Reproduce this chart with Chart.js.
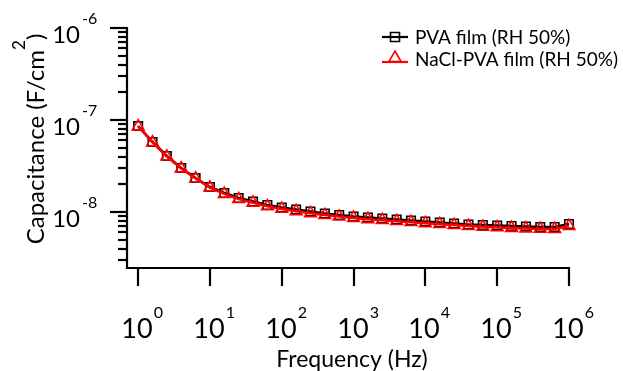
<!DOCTYPE html>
<html><head><meta charset="utf-8">
<script src="https://cdn.jsdelivr.net/npm/chart.js@4/dist/chart.umd.min.js"></script>
<style>html,body{margin:0;padding:0;background:#fff;}canvas{display:block;}</style>
</head><body>
<canvas id="c" width="623" height="371"></canvas>
<script>
// ---- data ----
const frequency = [1,1.585,2.512,3.981,6.31,10,15.85,25.12,39.81,63.1,100,158.5,251.2,398.1,631,1000,1585,2512,3981,6310,10000,15850,25120,39810,63100,100000,158500,251200,398100,631000,1000000];
const pvaFilm = [8.6e-8,5.77e-8,4.06e-8,3.01e-8,2.34e-8,1.87e-8,1.61e-8,1.42e-8,1.30e-8,1.19e-8,1.12e-8,1.064e-8,1.012e-8,9.63e-9,9.27e-9,8.93e-9,8.71e-9,8.49e-9,8.28e-9,8.08e-9,7.88e-9,7.69e-9,7.50e-9,7.31e-9,7.22e-9,7.13e-9,7.05e-9,6.96e-9,6.87e-9,6.87e-9,7.41e-9];
const naclPvaFilm = [8.5e-8,5.7e-8,4.0e-8,2.97e-8,2.31e-8,1.84e-8,1.57e-8,1.38e-8,1.26e-8,1.15e-8,1.08e-8,1.02e-8,9.7e-9,9.25e-9,8.9e-9,8.6e-9,8.35e-9,8.15e-9,7.95e-9,7.75e-9,7.55e-9,7.37e-9,7.2e-9,7.03e-9,6.9e-9,6.8e-9,6.7e-9,6.62e-9,6.55e-9,6.52e-9,7.05e-9];
const seriesNames = ['PVA film (RH 50%)','NaCl-PVA film (RH 50%)'];
const xTickValues = [1,10,100,1000,10000,100000,1000000];
const xTickExponents = ['0','1','2','3','4','5','6'];
const yTickValues = [1e-8,1e-7,1e-6];
const yTickExponents = ['-8','-7','-6'];
const yMinorValues = [3e-9,4e-9,5e-9,6e-9,7e-9,8e-9,9e-9,2e-8,3e-8,4e-8,5e-8,6e-8,7e-8,8e-8,9e-8,2e-7,3e-7,4e-7,5e-7,6e-7,7e-7,8e-7,9e-7];
const xTitle = 'Frequency (Hz)';
const yTitleMain = 'Capacitance (F/cm';
const yTitleSup = '2';
const yTitleEnd = ')';

const FONT = 'Lato, "Open Sans", sans-serif';

function seg(ctx,x1,y1,x2,y2){ctx.beginPath();ctx.moveTo(x1,y1);ctx.lineTo(x2,y2);ctx.stroke();}
function square(ctx,x,y,s){ctx.beginPath();ctx.rect(x-s/2,y-s/2,s,s);ctx.stroke();}
function tri(ctx,x,y,r){ctx.beginPath();ctx.moveTo(x,y-r);ctx.lineTo(x+r*0.866,y+r*0.5);ctx.lineTo(x-r*0.866,y+r*0.5);ctx.closePath();ctx.stroke();}

const axesPlugin = {
  id:'axesPlugin',
  afterDraw(chart){
    const ctx=chart.ctx, xs=chart.scales.x, ys=chart.scales.y, a=chart.chartArea;
    ctx.save();
    ctx.strokeStyle='#000'; ctx.fillStyle='#000'; ctx.lineWidth=2.2; ctx.lineCap='butt';
    // axis lines
    seg(ctx,a.left,a.top-1,a.left,a.bottom+1);
    seg(ctx,a.left-1,a.bottom,a.right+1,a.bottom);
    // x ticks + labels
    xTickValues.forEach((v,i)=>{
      const px=Math.round(xs.getPixelForValue(v));
      seg(ctx,px,a.bottom,px,a.bottom+18);
      ctx.font='27px '+FONT; ctx.textAlign='center'; ctx.textBaseline='alphabetic';
      ctx.fillText('10',px-1,338);
      const w=ctx.measureText('10').width;
      ctx.font='16px '+FONT; ctx.textAlign='left';
      ctx.fillText(xTickExponents[i],px-1+w/2+1,318);
    });
    // y major ticks + labels
    yTickValues.forEach((v,i)=>{
      const py=Math.round(ys.getPixelForValue(v));
      seg(ctx,a.left-17,py,a.left,py);
      ctx.font='24px '+FONT; ctx.textAlign='right'; ctx.textBaseline='alphabetic';
      ctx.fillText('10',80,py+15);
      ctx.font='16px '+FONT; ctx.textAlign='left';
      ctx.fillText(yTickExponents[i],82,py-4);
    });
    // y minor ticks
    yMinorValues.forEach(v=>{
      const py=Math.round(ys.getPixelForValue(v));
      seg(ctx,a.left-9,py,a.left,py);
    });
    // x title
    ctx.font='23px '+FONT; ctx.textAlign='center'; ctx.textBaseline='alphabetic';
    ctx.fillText(xTitle,352,367);
    // y title rotated
    ctx.save();
    ctx.translate(44,139); ctx.rotate(-Math.PI/2);
    ctx.font='24px '+FONT;
    const w1=ctx.measureText(yTitleMain).width;
    ctx.font='17px '+FONT; const w2=ctx.measureText(yTitleSup).width;
    ctx.font='24px '+FONT; const w3=ctx.measureText(yTitleEnd).width;
    let x0=-(w1+w2+w3)/2;
    ctx.textAlign='left';
    ctx.fillText(yTitleMain,x0,0);
    ctx.font='17px '+FONT; ctx.fillText(yTitleSup,x0+w1,-19);
    ctx.font='24px '+FONT; ctx.fillText(yTitleEnd,x0+w1+w2,0);
    ctx.restore();
    // legend
    ctx.font='19px '+FONT; ctx.textAlign='left'; ctx.textBaseline='middle';
    ctx.lineWidth=2.2; ctx.strokeStyle='#000';
    seg(ctx,382,37,408,37);
    ctx.lineWidth=1.6; square(ctx,395,37,9);
    ctx.fillText(seriesNames[0],415,38);
    ctx.strokeStyle='#ff0000'; ctx.lineWidth=2.2;
    seg(ctx,382,62,408,62);
    ctx.lineWidth=1.6; tri(ctx,395,58,7);
    ctx.fillStyle='#000';
    ctx.fillText(seriesNames[1],415,60);
    ctx.restore();
  }
};

new Chart(document.getElementById('c'),{
  type:'line',
  data:{
    datasets:[
      {label:seriesNames[0],data:frequency.map((f,i)=>({x:f,y:pvaFilm[i]})),borderColor:'#000',backgroundColor:'rgba(0,0,0,0)',borderWidth:2.5,pointStyle:'rect',pointRadius:6,pointBorderWidth:1.6,pointBorderColor:'#000',pointBackgroundColor:'rgba(0,0,0,0)',tension:0,order:1,clip:false},
      {label:seriesNames[1],data:frequency.map((f,i)=>({x:f,y:naclPvaFilm[i]})),borderColor:'#ff0000',backgroundColor:'rgba(0,0,0,0)',borderWidth:2.5,pointStyle:'triangle',pointRadius:6.8,pointBorderWidth:1.6,pointBorderColor:'#ff0000',pointBackgroundColor:'rgba(0,0,0,0)',tension:0,order:0,clip:false}
    ]
  },
  options:{
    responsive:false,animation:false,devicePixelRatio:1,
    layout:{padding:{left:127,right:54,top:28,bottom:103}},
    plugins:{legend:{display:false},tooltip:{enabled:false}},
    scales:{
      x:{type:'logarithmic',min:0.7265,max:1000000,display:false},
      y:{type:'logarithmic',min:2.46e-9,max:1e-6,display:false}
    }
  },
  plugins:[axesPlugin]
});
</script>
</body></html>
